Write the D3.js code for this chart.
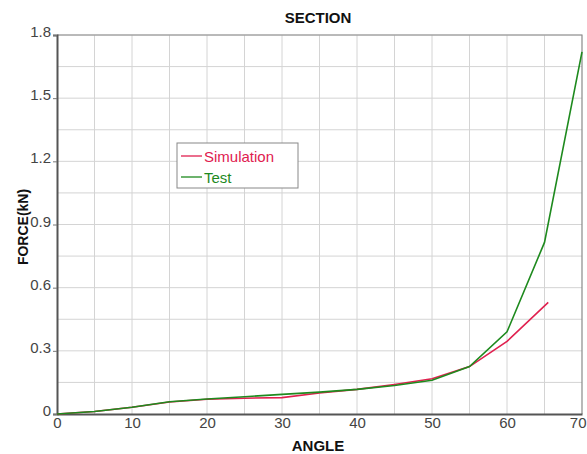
<!DOCTYPE html>
<html>
<head>
<meta charset="utf-8">
<script src="https://cdn.jsdelivr.net/npm/d3@7"></script>
<style>
  html, body { margin: 0; padding: 0; background: #fff; }
  svg { display: block; font-family: "Liberation Sans", Arial, sans-serif; }
</style>
</head>
<body>
<svg id="chart" width="587" height="454"></svg>
<script>
// Angle samples (degrees) and measured/computed force (kN)
const simAngle = [0, 5, 10, 15, 20, 25, 30, 35, 40, 45, 50, 55, 60, 65.5];
const simForce = [0, 0.012, 0.032, 0.057, 0.07, 0.075, 0.078, 0.1, 0.117, 0.14, 0.167, 0.225, 0.345, 0.53];
const testAngle = [0, 5, 10, 15, 20, 25, 30, 35, 40, 45, 50, 55, 60, 65, 70];
const testForce = [0, 0.012, 0.032, 0.058, 0.071, 0.082, 0.093, 0.104, 0.117, 0.135, 0.16, 0.225, 0.39, 0.815, 1.72];
const xTicks = [0, 10, 20, 30, 40, 50, 60, 70];
const yTicks = [0, 0.3, 0.6, 0.9, 1.2, 1.5, 1.8];
const seriesNames = ["Simulation", "Test"];

const colors = { Simulation: "#e0204f", Test: "#1e8a1e" };
const svg = d3.select("#chart");
const margin = { left: 57, right: 5, top: 35, bottom: 40 };
const W = 587, H = 454;

const x = d3.scaleLinear().domain([0, 70]).range([margin.left, W - margin.right]);
const y = d3.scaleLinear().domain([0, 1.8]).range([H - margin.bottom, margin.top]);

// grid
const grid = svg.append("g");
grid.selectAll("line.vx").data(d3.range(5, 70, 5)).join("line")
  .attr("x1", d => x(d)).attr("x2", d => x(d))
  .attr("y1", y(0)).attr("y2", y(1.8))
  .attr("stroke", "#d4d4d4").attr("stroke-width", 1);
grid.selectAll("line.hy").data(d3.range(0.15, 1.8, 0.15)).join("line")
  .attr("y1", d => y(d)).attr("y2", d => y(d))
  .attr("x1", x(0)).attr("x2", x(70))
  .attr("stroke", "#d4d4d4").attr("stroke-width", 1);

// frame (top and right)
svg.append("path")
  .attr("d", `M${x(0)},${y(1.8)}H${x(70)}V${y(0)}`)
  .attr("fill", "none").attr("stroke", "#8a8a8a").attr("stroke-width", 1.2);

// axes
const xAxis = svg.append("g").attr("transform", `translate(0,${y(0)})`)
  .call(d3.axisBottom(x).tickValues(xTicks).tickSize(0).tickPadding(3).tickFormat(d3.format("d")));
const yAxis = svg.append("g").attr("transform", `translate(${x(0)},0)`)
  .call(d3.axisLeft(y).tickValues(yTicks).tickSize(4).tickPadding(2)
    .tickFormat(d => d === 0 ? "0" : d3.format(".1f")(d)));
[xAxis, yAxis].forEach(a => {
  a.select(".domain").attr("stroke", "#555").attr("stroke-width", 2);
  a.selectAll(".tick line").attr("stroke", "#777");
  a.selectAll("text").attr("fill", "#444").attr("font-size", 15)
    .attr("font-family", "'Liberation Sans', Arial, sans-serif");
});
yAxis.selectAll("text").attr("dy", "0.1em");
// keep the last angle label inside the page
xAxis.selectAll(".tick text").filter(d => d === 70)
  .attr("text-anchor", "end").attr("dx", 4);

// lines
const line = d3.line().x(d => x(d[0])).y(d => y(d[1]));
const simData = simAngle.map((a, i) => [a, simForce[i]]);
const testData = testAngle.map((a, i) => [a, testForce[i]]);
svg.append("path").datum(simData).attr("d", line)
  .attr("fill", "none").attr("stroke", colors.Simulation).attr("stroke-width", 1.6);
svg.append("path").datum(testData).attr("d", line)
  .attr("fill", "none").attr("stroke", colors.Test).attr("stroke-width", 1.6);

// titles
svg.append("text").attr("x", 318).attr("y", 23).attr("text-anchor", "middle")
  .attr("font-weight", "bold").attr("font-size", 15).attr("fill", "#111").text("SECTION");
svg.append("text").attr("x", 318).attr("y", 451).attr("text-anchor", "middle")
  .attr("font-weight", "bold").attr("font-size", 15).attr("fill", "#111").text("ANGLE");
svg.append("text").attr("transform", "translate(28,227) rotate(-90)").attr("text-anchor", "middle")
  .attr("font-weight", "bold").attr("font-size", 14).attr("fill", "#111").text("FORCE(kN)");

// legend
const lg = svg.append("g").attr("transform", "translate(177,143)");
lg.append("rect").attr("width", 121).attr("height", 45)
  .attr("fill", "#fff").attr("stroke", "#888").attr("stroke-width", 1);
seriesNames.forEach((name, i) => {
  const yy = 13 + i * 21;
  lg.append("line").attr("x1", 4).attr("x2", 25).attr("y1", yy).attr("y2", yy)
    .attr("stroke", colors[name]).attr("stroke-width", 1.3);
  lg.append("text").attr("x", 27).attr("y", yy + 5.5).attr("font-size", 15)
    .attr("fill", colors[name]).text(name);
});
</script>
</body>
</html>
